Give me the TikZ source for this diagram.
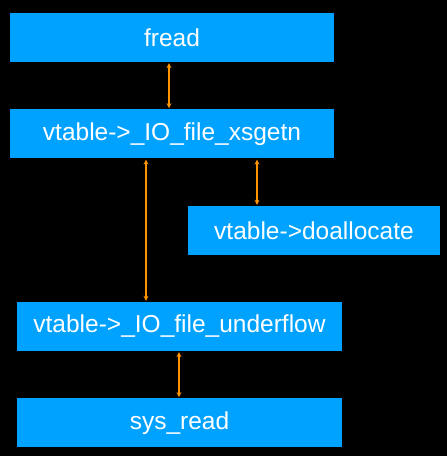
\documentclass[tikz,border=0pt]{standalone}
\usepackage{fontspec}
\setmainfont{Liberation Sans}
\usetikzlibrary{arrows.meta}
\usetikzlibrary{positioning}
\definecolor{clrBox}{HTML}{00A2FF}
\definecolor{clrArrow}{HTML}{FF9300}
\tikzstyle{box_style}=[fill=clrBox, anchor=center, text centered, text=white, font=\fontsize{24.5}{28}\selectfont, minimum height=49pt, inner sep=0pt]
\tikzstyle{callbox}=[box_style, minimum width=324pt]
\tikzstyle{myarrow}=[{Stealth[length=5pt,width=5pt]}-{Stealth[length=5pt,width=5pt]}, clrArrow, line width=1.5pt, shorten <=1pt, shorten >=1pt]

\begin{document}
\begin{tikzpicture}[x=1pt, y=1pt]
		\fill[black] (0,0) rectangle (447,456) ;
		\useasboundingbox (0,0) rectangle (447,456) ;

		\node[callbox] (fread) at (172,418.5) {fread} ;

		\node[callbox, below=47pt of fread] (xsgetn) {vtable->\_IO\_file\_xsgetn} ;
		\draw[myarrow] ([xshift=-3pt]fread.south) -- ([xshift=-3pt]xsgetn.north) ;

		\node[box_style, minimum width=252pt] (alloc) at (314,225.5) {vtable->doallocate} ;
		\draw[myarrow] ([xshift=85pt]xsgetn.south) -- ([xshift=-57pt]alloc.north) ;

		\node[callbox, minimum width=325pt] (underflow) at (179.5,129.5) {vtable->\_IO\_file\_underflow} ;
		\draw[myarrow] ([xshift=-26pt]xsgetn.south) -- ([xshift=-33.5pt]underflow.north) ;

		\node[callbox, minimum width=325pt, below=47pt of underflow] (sysread) {sys\_read} ;
		\draw[myarrow] ([xshift=-0.5pt]underflow.south) -- ([xshift=-0.5pt]sysread.north) ;

	\end{tikzpicture}
\end{document}
